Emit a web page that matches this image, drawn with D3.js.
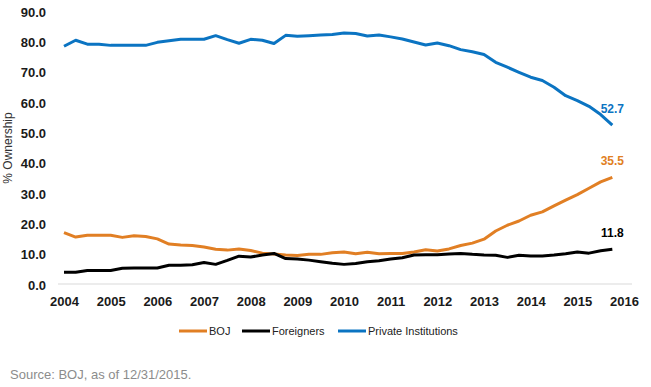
<!DOCTYPE html>
<html>
<head>
<meta charset="utf-8">
<script src="https://cdn.jsdelivr.net/npm/d3@7"></script>
<style>
  body { margin: 0; background: #fff; }
  svg { display: block; font-family: "Liberation Sans", Arial, sans-serif; }
</style>
</head>
<body>
<div id="chart"></div>
<script>
// quarterly, 2004 Q1 .. 2015 Q4
var boj = [17.3, 15.8, 16.4, 16.4, 16.4, 15.7, 16.2, 16.0, 15.2, 13.5, 13.2, 13.0,
           12.5, 11.8, 11.5, 11.9, 11.4, 10.5, 10.2, 9.9, 9.7, 10.1, 10.1, 10.6,
           10.9, 10.3, 10.8, 10.3, 10.4, 10.4, 10.9, 11.6, 11.2, 11.9, 13.0, 13.8,
           15.1, 17.8, 19.7, 21.1, 23.0, 24.1, 26.1, 28.0, 29.8, 31.9, 34.0, 35.5];
var foreigners = [4.2, 4.2, 4.8, 4.8, 4.8, 5.5, 5.6, 5.6, 5.6, 6.5, 6.5, 6.7,
           7.4, 6.8, 8.1, 9.5, 9.2, 9.9, 10.4, 8.7, 8.6, 8.2, 7.7, 7.2,
           6.8, 7.1, 7.7, 8.0, 8.6, 9.0, 9.9, 10.0, 10.0, 10.2, 10.4, 10.1,
           9.9, 9.8, 9.1, 9.8, 9.6, 9.6, 9.9, 10.3, 10.9, 10.5, 11.3, 11.8];
var privateInst = [78.7, 80.7, 79.4, 79.4, 79.0, 79.0, 79.0, 79.0, 80.0, 80.5, 81.0, 81.0,
           81.0, 82.2, 80.9, 79.7, 81.0, 80.7, 79.6, 82.3, 82.0, 82.2, 82.4, 82.6,
           83.1, 82.9, 82.1, 82.4, 81.8, 81.1, 80.1, 79.1, 79.8, 78.9, 77.6, 76.9,
           76.0, 73.4, 71.8, 70.1, 68.5, 67.4, 65.2, 62.4, 60.8, 58.9, 56.2, 52.7];
var years = [2004, 2005, 2006, 2007, 2008, 2009, 2010, 2011, 2012, 2013, 2014, 2015, 2016];
var yTicks = [0, 10, 20, 30, 40, 50, 60, 70, 80, 90];

var series = [
  {name: "BOJ", values: boj, color: "#E17F24"},
  {name: "Foreigners", values: foreigners, color: "#000000"},
  {name: "Private Institutions", values: privateInst, color: "#0B74C2"}
];

var W = 651, H = 387;
var svg = d3.select("#chart").append("svg").attr("width", W).attr("height", H);

var x = d3.scaleLinear().domain([2004, 2016]).range([64, 624]);
var y = d3.scaleLinear().domain([0, 90]).range([285, 12]);
var t = function(i) { return 2004 + i / 4; };

// baseline
svg.append("line")
    .attr("x1", 58).attr("x2", 632)
    .attr("y1", y(0) - 1).attr("y2", y(0) - 1)
    .attr("stroke", "#d9d9d9").attr("stroke-width", 1);

// y axis labels
var yAxis = svg.append("g")
    .attr("transform", "translate(46,0)")
    .call(d3.axisLeft(y).tickValues(yTicks).tickSize(0).tickPadding(0)
        .tickFormat(function(d) { return d.toFixed(1); }));
yAxis.select(".domain").remove();
yAxis.selectAll("text")
    .style("font-family", "Liberation Sans, Arial, sans-serif")
    .style("font-size", "13px").style("font-weight", "bold").style("fill", "#1a1a1a");

// x axis labels
var xAxis = svg.append("g")
    .attr("transform", "translate(0,297)")
    .call(d3.axisBottom(x).tickValues(years).tickSize(0).tickPadding(0)
        .tickFormat(d3.format("d")));
xAxis.select(".domain").remove();
xAxis.selectAll("text")
    .style("font-family", "Liberation Sans, Arial, sans-serif")
    .style("font-size", "13px").style("font-weight", "bold").style("fill", "#1a1a1a");

// y title
svg.append("text")
    .attr("transform", "translate(12,148) rotate(-90)")
    .attr("text-anchor", "middle")
    .style("font-size", "12px").style("fill", "#333")
    .text("% Ownership");

var line = d3.line()
    .x(function(d, i) { return x(t(i)); })
    .y(function(d) { return y(d); });

series.forEach(function(s) {
    svg.append("path")
        .datum(s.values)
        .attr("fill", "none")
        .attr("stroke", s.color)
        .attr("stroke-width", 3)
        .attr("stroke-linejoin", "round")
        .attr("d", line);

    var last = s.values.length - 1;
    svg.append("text")
        .attr("x", x(t(last)))
        .attr("y", y(s.values[last]) - 12)
        .attr("text-anchor", "middle")
        .style("font-size", "12px").style("font-weight", "bold")
        .style("fill", s.color)
        .text(s.values[last].toFixed(1));
});

// legend
var legendX = [179, 242, 338];
var leg = svg.append("g").attr("transform", "translate(0,331)");
series.forEach(function(s, i) {
    var g = leg.append("g").attr("transform", "translate(" + legendX[i] + ",0)");
    g.append("line").attr("x1", 0).attr("x2", 28).attr("y1", 0).attr("y2", 0)
        .attr("stroke", s.color).attr("stroke-width", 3);
    g.append("text").attr("x", 30).attr("y", 4)
        .style("font-size", "11px").style("fill", "#222")
        .text(s.name);
});

// source
svg.append("text")
    .attr("x", 10).attr("y", 379)
    .style("font-size", "13px").style("fill", "#8c8c8c")
    .text("Source: BOJ, as of 12/31/2015.");
</script>
</body>
</html>
